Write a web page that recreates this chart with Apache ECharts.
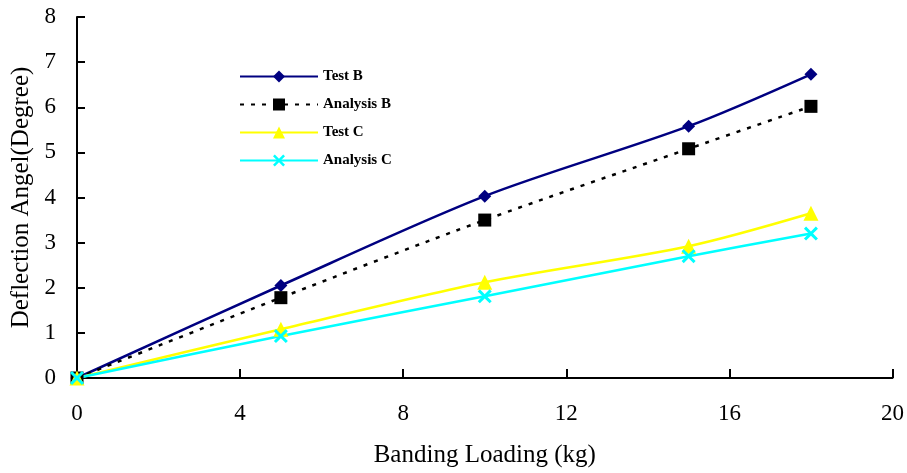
<!DOCTYPE html>
<html>
<head>
<meta charset="utf-8">
<script src="https://cdn.jsdelivr.net/npm/echarts@6/dist/echarts.min.js"></script>
<style>
html, body { margin: 0; padding: 0; background: #fff; }
#main { width: 907px; height: 473px; }
</style>
</head>
<body>
<div id="main"></div>
<script>
// data
var loads = [0, 5, 10, 15, 18];
var testB = [0, 2.05, 4.03, 5.58, 6.73];
var analysisB = [0, 1.78, 3.5, 5.08, 6.02];
var testC = [0, 1.08, 2.12, 2.92, 3.65];
var analysisC = [0, 0.93, 1.81, 2.7, 3.2];

function pairs(ys) {
    return loads.map(function (x, i) { return [x, ys[i]]; });
}

var crossPath = 'path://M0,1.5L1.5,0L5,3.5L8.5,0L10,1.5L6.5,5L10,8.5L8.5,10L5,6.5L1.5,10L0,8.5L3.5,5Z';
var serif = '"Liberation Serif", "DejaVu Serif", serif';

var myChart = echarts.init(document.getElementById('main'));

var option = {
    animation: false,
    grid: {
        left: 77,
        right: 14,
        top: 17,
        bottom: 94
    },
    legend: {
        orient: 'vertical',
        left: 234,
        top: 64,
        itemWidth: 78,
        itemHeight: 15,
        itemGap: 13,
        textStyle: {
            fontFamily: serif,
            fontWeight: 'bold',
            fontSize: 15,
            color: '#000'
        },
        data: ['Test B', 'Analysis B', 'Test C', 'Analysis C']
    },
    xAxis: {
        type: 'value',
        min: 0,
        max: 20,
        interval: 4,
        name: 'Banding Loading (kg)',
        nameLocation: 'middle',
        nameGap: 65,
        nameTextStyle: { fontFamily: serif, fontSize: 25, color: '#000' },
        axisLine: { lineStyle: { color: '#000', width: 2 } },
        axisTick: { inside: true, length: 9, lineStyle: { color: '#000', width: 2 } },
        axisLabel: { fontFamily: serif, fontSize: 23, color: '#000', margin: 24 },
        splitLine: { show: false }
    },
    yAxis: {
        type: 'value',
        min: 0,
        max: 8,
        interval: 1,
        name: 'Deflection Angel(Degree)',
        nameLocation: 'middle',
        nameGap: 43,
        nameTextStyle: { fontFamily: serif, fontSize: 25, color: '#000' },
        axisLine: { show: true, lineStyle: { color: '#000', width: 2 } },
        axisTick: { show: true, inside: true, length: 8, lineStyle: { color: '#000', width: 2 } },
        axisLabel: { fontFamily: serif, fontSize: 23, color: '#000', margin: 21 },
        splitLine: { show: false }
    },
    series: [{
        name: 'Test B',
        type: 'line',
        data: pairs(testB),
        smooth: 0.3,
        symbol: 'diamond',
        symbolSize: 13,
        lineStyle: { color: '#000080', width: 2.5 },
        itemStyle: { color: '#000080' }
    }, {
        name: 'Analysis B',
        type: 'line',
        data: pairs(analysisB),
        smooth: 0.3,
        symbol: 'rect',
        symbolSize: 13,
        lineStyle: { color: '#000', width: 2.5, type: [4, 7] },
        itemStyle: { color: '#000' }
    }, {
        name: 'Test C',
        type: 'line',
        data: pairs(testC),
        smooth: 0.3,
        symbol: 'triangle',
        symbolSize: 15,
        lineStyle: { color: '#ffff00', width: 2.5 },
        itemStyle: { color: '#ffff00' }
    }, {
        name: 'Analysis C',
        type: 'line',
        data: pairs(analysisC),
        smooth: 0.3,
        symbol: crossPath,
        symbolSize: 14,
        lineStyle: { color: '#00ffff', width: 2.5 },
        itemStyle: { color: '#00ffff' }
    }]
};
myChart.setOption(option);
</script>
</body>
</html>
